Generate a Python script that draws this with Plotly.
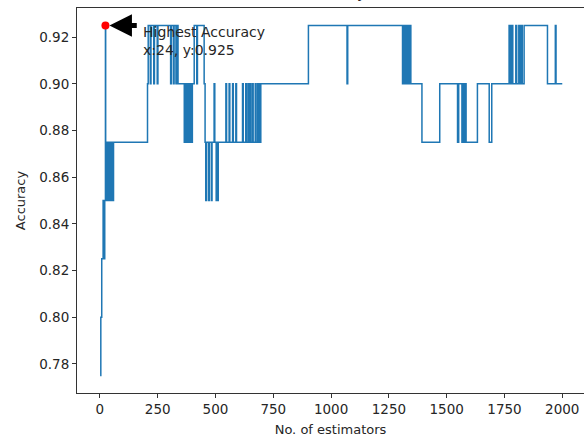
import plotly.graph_objects as go

# Step change points: number of estimators where accuracy changes, and the new accuracy
step_x = [1, 4, 8, 14, 17, 21, 24, 25, 28, 31, 34, 37, 41, 44, 48, 51, 55, 59,
          206, 209, 218, 221, 233, 236, 248, 251, 306, 309, 318, 321, 329, 332, 338,
          365, 369, 372, 377, 380, 386, 389, 394, 397, 400, 408, 419, 422,
          451, 455, 458, 461, 470, 473, 482, 485, 494, 497, 503, 506, 509, 512,
          545, 548, 559, 562, 574, 577, 588, 591, 617, 620, 631, 634, 641, 644,
          650, 653, 660, 663, 672, 675, 682, 686, 690, 693, 696,
          902, 1069, 1072, 1309, 1312, 1316, 1319, 1324, 1327, 1331, 1334, 1338,
          1341, 1345, 1393, 1470, 1547, 1552, 1566, 1570, 1575, 1580, 1584, 1633,
          1684, 1695, 1770, 1776, 1782, 1786, 1799, 1803, 1812, 1817, 1823, 1827,
          1835, 1936, 1970, 1973, 2000]
step_acc = [0.775, 0.8, 0.825, 0.85, 0.825, 0.85, 0.925, 0.875, 0.85, 0.875, 0.85, 0.875, 0.85, 0.875, 0.85, 0.875, 0.85, 0.875,
            0.9, 0.925, 0.9, 0.925, 0.9, 0.925, 0.9, 0.925, 0.9, 0.925, 0.9, 0.925, 0.9, 0.925, 0.9,
            0.875, 0.9, 0.875, 0.9, 0.875, 0.9, 0.875, 0.9, 0.875, 0.9, 0.925, 0.9, 0.925,
            0.9, 0.875, 0.85, 0.875, 0.85, 0.875, 0.85, 0.875, 0.9, 0.875, 0.85, 0.875, 0.85, 0.875,
            0.9, 0.875, 0.9, 0.875, 0.9, 0.875, 0.9, 0.875, 0.9, 0.875, 0.9, 0.875, 0.9, 0.875,
            0.9, 0.875, 0.9, 0.875, 0.9, 0.875, 0.9, 0.875, 0.9, 0.875, 0.9,
            0.925, 0.9, 0.925, 0.9, 0.925, 0.9, 0.925, 0.9, 0.925, 0.9, 0.925, 0.9,
            0.925, 0.9, 0.875, 0.9, 0.875, 0.9, 0.875, 0.9, 0.875, 0.9, 0.875, 0.9,
            0.875, 0.9, 0.925, 0.9, 0.925, 0.9, 0.925, 0.9, 0.925, 0.9, 0.925, 0.9,
            0.925, 0.9, 0.925, 0.9, 0.9]

best_x = [24]
best_acc = [0.925]

x_ticks = [0, 250, 500, 750, 1000, 1250, 1500, 1750, 2000]
y_ticks = [0.78, 0.80, 0.82, 0.84, 0.86, 0.88, 0.90, 0.92]

FONT = "DejaVu Sans"
TXT = "#262626"

fig = go.Figure()
fig.add_trace(go.Scatter(x=step_x, y=step_acc, mode="lines", line_shape="hv",
                         line=dict(color="#1f77b4", width=1.5), showlegend=False))
fig.add_trace(go.Scatter(x=best_x, y=best_acc, mode="markers",
                         marker=dict(color="red", size=8), showlegend=False))

fig.add_annotation(x=best_x[0], y=best_acc[0], ax=166, ay=best_acc[0], axref="x", ayref="y",
                   xref="x", yref="y", text="", showarrow=True, arrowhead=2,
                   arrowsize=0.9, arrowwidth=5, arrowcolor="black", standoff=4)
fig.add_annotation(x=178, y=0.9264, xref="x", yref="y", xanchor="left", yanchor="top",
                   text="Highest Accuracy<br>x:24, y:0.925", showarrow=False, align="left",
                   font=dict(family=FONT, size=14, color=TXT))
fig.add_annotation(x=0.5, y=1, xref="paper", yref="paper", xanchor="center", yanchor="bottom",
                   yshift=4, text="Accuracy", showarrow=False,
                   font=dict(family=FONT, size=15.6, color=TXT))

fig.update_layout(
    width=584, height=439,
    margin=dict(l=77, r=0, t=8, b=46),
    paper_bgcolor="white", plot_bgcolor="white",
    font=dict(family=FONT, size=13, color=TXT),
    xaxis=dict(range=[-99, 2094], tickvals=x_ticks, ticks="outside", ticklen=4,
               tickcolor="#333", showline=True, linecolor="#333", linewidth=1,
               mirror=True, showgrid=False, zeroline=False,
               tickfont=dict(size=13.5),
               title=dict(text="No. of estimators", standoff=8,
                          font=dict(family=FONT, size=13, color=TXT))),
    yaxis=dict(range=[0.7675, 0.9325], tickvals=y_ticks, tickformat=".2f",
               ticks="outside", ticklen=4, tickcolor="#333", showline=True,
               linecolor="#333", linewidth=1, mirror=False, showgrid=False,
               zeroline=False, tickfont=dict(size=13.5),
               title=dict(text="Accuracy", standoff=10,
                          font=dict(family=FONT, size=13, color=TXT))),
)

fig.write_html("out.html")
